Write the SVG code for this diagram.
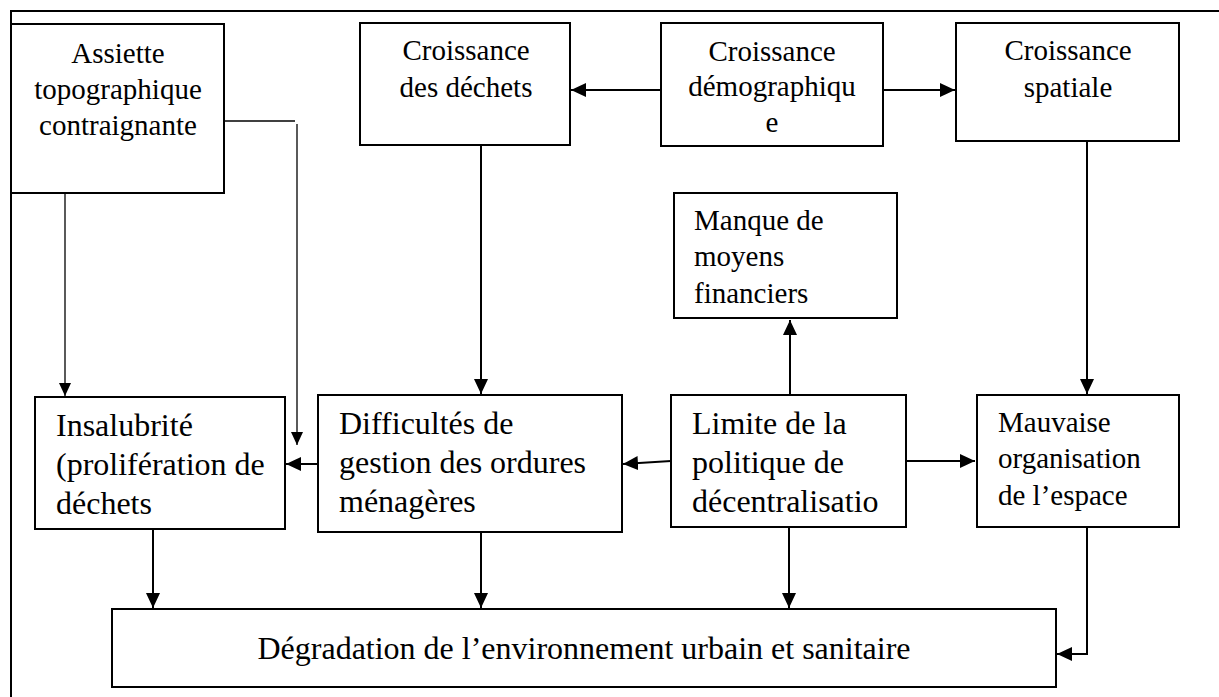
<svg xmlns="http://www.w3.org/2000/svg" width="1219" height="697" viewBox="0 0 1219 697" font-family="'Liberation Serif', 'Times New Roman', serif">
<style>
.box{fill:#fff;stroke:#000;stroke-width:2}
text{font-family:"Liberation Serif","Times New Roman",serif;fill:#000}
.s29{font-size:29px}
.s32{font-size:32px}
.c{stroke:#000;stroke-width:2;fill:none}
.thin{stroke:#000;stroke-width:1.3;fill:none}
</style>
<defs>
<marker id="ah" markerUnits="userSpaceOnUse" markerWidth="16" markerHeight="16" refX="15" refY="7" orient="auto">
<path d="M0,0 L15,7 L0,14 Z" fill="#000"/>
</marker>
<marker id="ahs" markerUnits="userSpaceOnUse" markerWidth="14" markerHeight="14" refX="13" refY="6" orient="auto">
<path d="M0,0 L13,6 L0,12 Z" fill="#000"/>
</marker>
</defs>
<g id="frame">
<line x1="11" y1="11" x2="1219" y2="11" stroke="#000" stroke-width="2"/>
<line x1="11" y1="10" x2="11" y2="697" stroke="#000" stroke-width="2"/>
</g>
<g id="connectors">
<line class="c" x1="661" y1="90" x2="571" y2="90" marker-end="url(#ah)"/>
<line class="c" x1="883" y1="90" x2="955" y2="90" marker-end="url(#ah)"/>
<line class="c" x1="481" y1="145" x2="481" y2="394" marker-end="url(#ah)"/>
<line class="c" x1="1087" y1="141" x2="1087" y2="394" marker-end="url(#ah)"/>
<line class="thin" x1="65" y1="193" x2="65" y2="396" marker-end="url(#ahs)"/>
<line class="thin" x1="222" y1="121" x2="295" y2="121"/>
<line class="thin" x1="297" y1="124" x2="297" y2="445" marker-end="url(#ahs)"/>
<line class="c" x1="318" y1="464" x2="286" y2="464" marker-end="url(#ah)"/>
<line class="c" x1="671" y1="461" x2="623" y2="464" marker-end="url(#ah)"/>
<line class="c" x1="906" y1="461" x2="975" y2="461" marker-end="url(#ah)"/>
<line class="c" x1="790" y1="395" x2="790" y2="320" marker-end="url(#ah)"/>
<line class="c" x1="153" y1="529" x2="153" y2="608" marker-end="url(#ah)"/>
<line class="c" x1="481" y1="526" x2="481" y2="608" marker-end="url(#ah)"/>
<line class="c" x1="789" y1="527" x2="789" y2="608" marker-end="url(#ah)"/>
<polyline class="c" points="1087,527 1087,654 1057,654" marker-end="url(#ah)"/>
</g>
<g id="assiette">
<rect class="box" x="11" y="24" width="213" height="169"/>
<text class="s29" text-anchor="middle"><tspan x="118" y="63">Assiette</tspan><tspan x="118" y="99">topographique</tspan><tspan x="118" y="135">contraignante</tspan></text>
</g>
<g id="croissance-dechets">
<rect class="box" x="360" y="23" width="210" height="122"/>
<text class="s29" text-anchor="middle"><tspan x="466" y="60">Croissance</tspan><tspan x="466" y="97">des déchets</tspan></text>
</g>
<g id="croissance-demographique">
<rect class="box" x="661" y="23" width="222" height="123"/>
<text class="s29" text-anchor="middle"><tspan x="772" y="61">Croissance</tspan><tspan x="772" y="96">démographiqu</tspan><tspan x="772" y="132">e</tspan></text>
</g>
<g id="croissance-spatiale">
<rect class="box" x="956" y="23" width="223" height="118"/>
<text class="s29" text-anchor="middle"><tspan x="1068" y="60">Croissance</tspan><tspan x="1068" y="97">spatiale</tspan></text>
</g>
<g id="manque">
<rect class="box" x="674" y="193" width="223" height="125"/>
<text class="s29"><tspan x="694" y="230">Manque de</tspan><tspan x="694" y="266">moyens</tspan><tspan x="694" y="303">financiers</tspan></text>
</g>
<g id="insalubrite">
<rect class="box" x="35" y="397" width="250" height="132"/>
<text class="s32"><tspan x="56" y="436">Insalubrité</tspan><tspan x="56" y="475">(prolifération de</tspan><tspan x="56" y="514">déchets</tspan></text>
</g>
<g id="difficultes">
<rect class="box" x="318" y="395" width="304" height="137"/>
<text class="s32"><tspan x="339" y="434">Difficultés de</tspan><tspan x="339" y="473">gestion des ordures</tspan><tspan x="339" y="512">ménagères</tspan></text>
</g>
<g id="limite">
<rect class="box" x="671" y="395" width="235" height="132"/>
<text class="s32"><tspan x="692" y="434">Limite de la</tspan><tspan x="692" y="473">politique de</tspan><tspan x="692" y="512">décentralisatio</tspan></text>
</g>
<g id="mauvaise">
<rect class="box" x="977" y="395" width="202" height="132"/>
<text class="s29"><tspan x="998" y="432">Mauvaise</tspan><tspan x="998" y="468">organisation</tspan><tspan x="998" y="505">de l’espace</tspan></text>
</g>
<g id="degradation">
<rect class="box" x="112" y="609" width="944" height="78"/>
<text class="s32" x="584" y="659" text-anchor="middle">Dégradation de l’environnement urbain et sanitaire</text>
</g>
</svg>
